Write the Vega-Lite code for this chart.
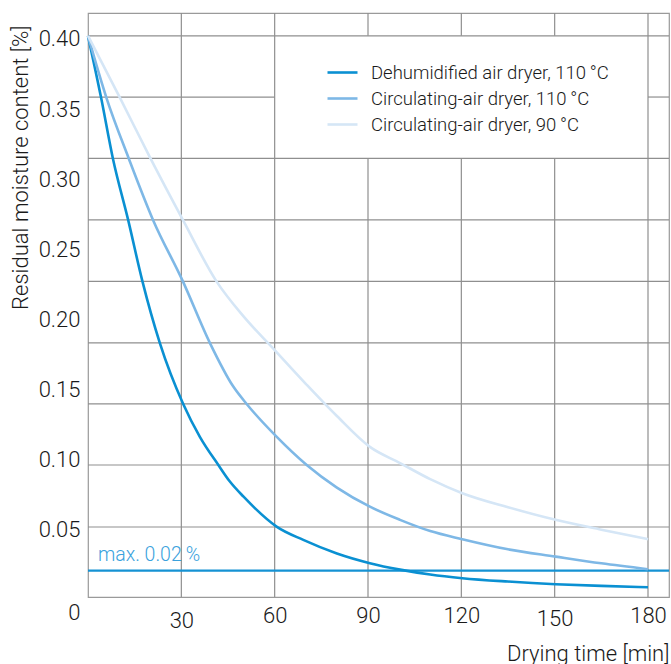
{
  "$schema": "https://vega.github.io/schema/vega-lite/v6.json",
  "width": 581,
  "height": 584,
  "autosize": {"type": "none"},
  "padding": {"left": 88, "top": 13, "right": 2, "bottom": 67},
  "background": "white",
  "config": {
    "font": "Roboto",
    "view": {"stroke": "#9a9a9a", "strokeWidth": 1.2},
    "axis": {"grid": false, "domain": false, "ticks": false, "labelFont": "Roboto", "labelFontWeight": 300, "labelFontSize": 22, "labelColor": "#1a1a1a", "titleFont": "Roboto", "titleFontWeight": 300, "titleFontSize": 22, "titleColor": "#1a1a1a"}
  },
  "datasets": {
    "curves": [
      {"t": 0, "v": 0.400, "s": "Dehumidified air dryer, 110\u2009°C"},
      {"t": 4.2, "v": 0.356, "s": "Dehumidified air dryer, 110\u2009°C"},
      {"t": 8, "v": 0.3126, "s": "Dehumidified air dryer, 110\u2009°C"},
      {"t": 12.9, "v": 0.2688, "s": "Dehumidified air dryer, 110\u2009°C"},
      {"t": 17.5, "v": 0.225, "s": "Dehumidified air dryer, 110\u2009°C"},
      {"t": 23.1, "v": 0.181, "s": "Dehumidified air dryer, 110\u2009°C"},
      {"t": 30.6, "v": 0.1376, "s": "Dehumidified air dryer, 110\u2009°C"},
      {"t": 36, "v": 0.114, "s": "Dehumidified air dryer, 110\u2009°C"},
      {"t": 41.9, "v": 0.0941, "s": "Dehumidified air dryer, 110\u2009°C"},
      {"t": 45.6, "v": 0.0823, "s": "Dehumidified air dryer, 110\u2009°C"},
      {"t": 50, "v": 0.0715, "s": "Dehumidified air dryer, 110\u2009°C"},
      {"t": 60.6, "v": 0.0502, "s": "Dehumidified air dryer, 110\u2009°C"},
      {"t": 69.2, "v": 0.0407, "s": "Dehumidified air dryer, 110\u2009°C"},
      {"t": 80, "v": 0.031, "s": "Dehumidified air dryer, 110\u2009°C"},
      {"t": 90.6, "v": 0.0241, "s": "Dehumidified air dryer, 110\u2009°C"},
      {"t": 100.3, "v": 0.0195, "s": "Dehumidified air dryer, 110\u2009°C"},
      {"t": 110, "v": 0.016, "s": "Dehumidified air dryer, 110\u2009°C"},
      {"t": 120.3, "v": 0.0134, "s": "Dehumidified air dryer, 110\u2009°C"},
      {"t": 135, "v": 0.011, "s": "Dehumidified air dryer, 110\u2009°C"},
      {"t": 150.3, "v": 0.0091, "s": "Dehumidified air dryer, 110\u2009°C"},
      {"t": 165, "v": 0.0079, "s": "Dehumidified air dryer, 110\u2009°C"},
      {"t": 180, "v": 0.0070, "s": "Dehumidified air dryer, 110\u2009°C"},
      {"t": 0, "v": 0.400, "s": "Circulating-air dryer, 110\u2009°C"},
      {"t": 5.9, "v": 0.356, "s": "Circulating-air dryer, 110\u2009°C"},
      {"t": 13.1, "v": 0.3126, "s": "Circulating-air dryer, 110\u2009°C"},
      {"t": 20.9, "v": 0.2688, "s": "Circulating-air dryer, 110\u2009°C"},
      {"t": 30.5, "v": 0.225, "s": "Circulating-air dryer, 110\u2009°C"},
      {"t": 39.2, "v": 0.181, "s": "Circulating-air dryer, 110\u2009°C"},
      {"t": 46.7, "v": 0.150, "s": "Circulating-air dryer, 110\u2009°C"},
      {"t": 51, "v": 0.1376, "s": "Circulating-air dryer, 110\u2009°C"},
      {"t": 60.6, "v": 0.1143, "s": "Circulating-air dryer, 110\u2009°C"},
      {"t": 70.3, "v": 0.0941, "s": "Circulating-air dryer, 110\u2009°C"},
      {"t": 80, "v": 0.078, "s": "Circulating-air dryer, 110\u2009°C"},
      {"t": 90.6, "v": 0.0644, "s": "Circulating-air dryer, 110\u2009°C"},
      {"t": 100.3, "v": 0.055, "s": "Circulating-air dryer, 110\u2009°C"},
      {"t": 110, "v": 0.047, "s": "Circulating-air dryer, 110\u2009°C"},
      {"t": 120.3, "v": 0.0412, "s": "Circulating-air dryer, 110\u2009°C"},
      {"t": 135, "v": 0.034, "s": "Circulating-air dryer, 110\u2009°C"},
      {"t": 150.3, "v": 0.0288, "s": "Circulating-air dryer, 110\u2009°C"},
      {"t": 165, "v": 0.024, "s": "Circulating-air dryer, 110\u2009°C"},
      {"t": 180, "v": 0.0198, "s": "Circulating-air dryer, 110\u2009°C"},
      {"t": 0, "v": 0.400, "s": "Circulating-air dryer, 90\u2009°C"},
      {"t": 10, "v": 0.357, "s": "Circulating-air dryer, 90\u2009°C"},
      {"t": 20, "v": 0.313, "s": "Circulating-air dryer, 90\u2009°C"},
      {"t": 30.5, "v": 0.2688, "s": "Circulating-air dryer, 90\u2009°C"},
      {"t": 41.3, "v": 0.225, "s": "Circulating-air dryer, 90\u2009°C"},
      {"t": 50, "v": 0.200, "s": "Circulating-air dryer, 90\u2009°C"},
      {"t": 60, "v": 0.176, "s": "Circulating-air dryer, 90\u2009°C"},
      {"t": 70, "v": 0.152, "s": "Circulating-air dryer, 90\u2009°C"},
      {"t": 80, "v": 0.129, "s": "Circulating-air dryer, 90\u2009°C"},
      {"t": 90.6, "v": 0.107, "s": "Circulating-air dryer, 90\u2009°C"},
      {"t": 100.3, "v": 0.0955, "s": "Circulating-air dryer, 90\u2009°C"},
      {"t": 110, "v": 0.084, "s": "Circulating-air dryer, 90\u2009°C"},
      {"t": 120.3, "v": 0.074, "s": "Circulating-air dryer, 90\u2009°C"},
      {"t": 135, "v": 0.064, "s": "Circulating-air dryer, 90\u2009°C"},
      {"t": 150.3, "v": 0.055, "s": "Circulating-air dryer, 90\u2009°C"},
      {"t": 165, "v": 0.048, "s": "Circulating-air dryer, 90\u2009°C"},
      {"t": 180, "v": 0.0412, "s": "Circulating-air dryer, 90\u2009°C"}
    ],
    "grid": [
      {"x0": 30, "x1": 30, "y0": 0, "y1": 0.4163},
      {"x0": 60, "x1": 60, "y0": 0, "y1": 0.4163},
      {"x0": 90, "x1": 90, "y0": 0, "y1": 0.3126},
      {"x0": 90, "x1": 90, "y0": 0.400, "y1": 0.4163},
      {"x0": 120, "x1": 120, "y0": 0, "y1": 0.3126},
      {"x0": 120, "x1": 120, "y0": 0.400, "y1": 0.4163},
      {"x0": 150, "x1": 150, "y0": 0, "y1": 0.3126},
      {"x0": 150, "x1": 150, "y0": 0.400, "y1": 0.4163},
      {"x0": 180, "x1": 180, "y0": 0, "y1": 0.4163},
      {"x0": 0, "x1": 186.75, "y0": 0.400, "y1": 0.400},
      {"x0": 0, "x1": 60, "y0": 0.3564, "y1": 0.3564},
      {"x0": 180, "x1": 186.75, "y0": 0.3564, "y1": 0.3564},
      {"x0": 0, "x1": 186.75, "y0": 0.3126, "y1": 0.3126},
      {"x0": 0, "x1": 186.75, "y0": 0.2688, "y1": 0.2688},
      {"x0": 0, "x1": 186.75, "y0": 0.2250, "y1": 0.2250},
      {"x0": 0, "x1": 186.75, "y0": 0.1811, "y1": 0.1811},
      {"x0": 0, "x1": 186.75, "y0": 0.1376, "y1": 0.1376},
      {"x0": 0, "x1": 186.75, "y0": 0.0941, "y1": 0.0941},
      {"x0": 0, "x1": 186.75, "y0": 0.0499, "y1": 0.0499}
    ],
    "limit": [{"t": 3.2, "v": 0.0188, "label": "max. 0.02\u2009%"}]
  },
  "layer": [
    {
      "data": {"name": "grid"},
      "mark": {"type": "rule", "color": "#8f8f8f", "strokeWidth": 1.2},
      "encoding": {
        "x": {"field": "x0", "type": "quantitative", "scale": {"domain": [0, 186.75], "nice": false, "zero": false},
          "axis": {"values": [30, 60, 90, 120, 150, 180], "labelAlign": "center", "labelBaseline": "top",
            "labelPadding": {"condition": [{"test": "datum.value == 30", "value": 13}, {"test": "datum.value == 150", "value": 11}], "value": 8},
            "title": "Drying time [min]", "titleAnchor": "end", "titleAlign": "right", "titleX": 581, "titleY": 63, "titleBaseline": "alphabetic"}},
        "x2": {"field": "x1"},
        "y": {"field": "y0", "type": "quantitative", "scale": {"domain": [0, 0.4163], "nice": false, "zero": false},
          "axis": {"values": [0, 0.05, 0.10, 0.15, 0.20, 0.25, 0.30, 0.35, 0.40],
            "labelExpr": "datum.value == 0 ? '0' : format(datum.value, '.2f')",
            "labelPadding": 8,
            "labelOffset": {"condition": {"test": "datum.value == 0", "value": 15}, "value": 3},
            "title": "Residual moisture content [%]", "titleAngle": -90, "titleAlign": "right", "titleBaseline": "alphabetic", "titleX": -61, "titleY": 12}},
        "y2": {"field": "y1"}
      }
    },
    {
      "data": {"name": "limit"},
      "mark": {"type": "rule", "color": "#1592d3", "strokeWidth": 2.2},
      "encoding": {"y": {"field": "v", "type": "quantitative"}}
    },
    {
      "data": {"name": "limit"},
      "mark": {"type": "text", "color": "#3aa2dd", "font": "Roboto", "fontWeight": 300, "fontSize": 19.5, "align": "left", "baseline": "alphabetic", "dy": -10},
      "encoding": {"x": {"field": "t", "type": "quantitative"}, "y": {"field": "v", "type": "quantitative"}, "text": {"field": "label"}}
    },
    {
      "data": {"name": "curves"},
      "mark": {"type": "line", "strokeWidth": 2.6, "interpolate": "monotone"},
      "encoding": {
        "x": {"field": "t", "type": "quantitative"},
        "y": {"field": "v", "type": "quantitative"},
        "color": {"field": "s", "type": "nominal",
          "scale": {"domain": ["Dehumidified air dryer, 110\u2009°C", "Circulating-air dryer, 110\u2009°C", "Circulating-air dryer, 90\u2009°C"], "range": ["#0a90d2", "#7eb8e6", "#d5e6f6"]},
          "legend": {"orient": "none", "legendX": 238, "legendY": 43, "title": null, "symbolType": "stroke", "symbolSize": 900, "symbolStrokeWidth": 2.6, "labelFont": "Roboto", "labelFontWeight": 300, "labelFontSize": 18.5, "labelColor": "#1a1a1a", "labelOffset": 12, "rowPadding": -4, "padding": 0, "labelLimit": 400}},
        "order": {"field": "s"}
      }
    }
  ]
}
